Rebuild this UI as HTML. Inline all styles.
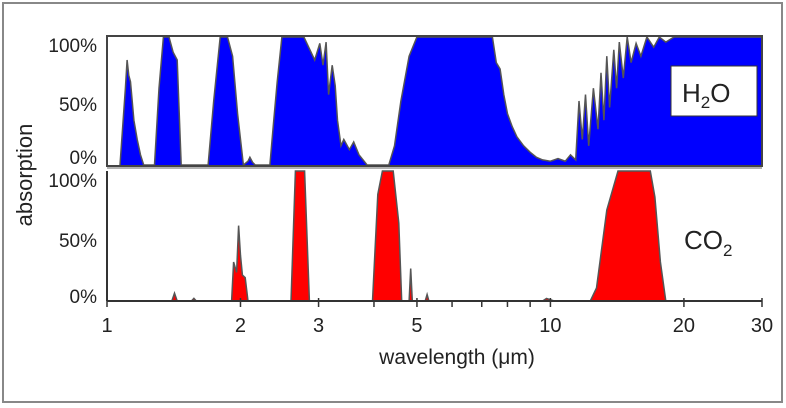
<!DOCTYPE html>
<html><head><meta charset="utf-8">
<style>
html,body{margin:0;padding:0;background:#fff;}
svg{display:block;font-family:"Liberation Sans",Arial,sans-serif;}
</style></head>
<body>
<svg id="chart" width="786" height="408" viewBox="0 0 786 408">
<rect x="3" y="3" width="779" height="399" fill="#fff" stroke="#888" stroke-width="2"/>
<g id="topPanel"></g>
<g id="botPanel"></g>
<g id="axesGroup"></g>
</svg>
<script>
// ---- data ----
const xTicks = [1,2,3,4,5,6,7,8,9,10,20,30];
const xTickLabels = [1,2,3,5,10,20,30];
const yTickLabels = ["0%","50%","100%"];
const yTickValues = [0,50,100];
const h2oWavelength = [1.07,1.10,1.11,1.12,1.13,1.15,1.17,1.19,1.21,1.28,1.31,1.34,1.38,1.41,1.44,1.47,1.69,1.74,1.80,1.87,1.92,1.97,2.03,2.08,2.10,2.13,2.16,2.33,2.37,2.42,2.48,2.60,2.78,2.94,3.02,3.07,3.12,3.16,3.22,3.27,3.31,3.37,3.42,3.52,3.60,3.70,3.86,4.32,4.45,4.60,4.80,5.00,5.10,7.4,7.55,7.7,7.85,8.0,8.2,8.4,8.7,9.0,9.3,9.6,10.0,10.4,10.8,11.1,11.4,11.6,11.8,12.0,12.2,12.5,12.8,13.0,13.2,13.4,13.6,13.9,14.1,14.3,14.6,14.9,15.2,15.6,16.0,16.5,17.1,17.6,18.2,19.0,30];
const h2oValues = [0,60,82,70,65,35,20,8,0,0,60,100,100,88,82,0,0,50,100,100,85,40,0,3,6,2,0,0,30,65,100,100,100,82,95,78,96,55,78,62,35,15,20,12,18,8,0,0,15,50,85,100,100,100,80,75,55,40,30,22,15,10,6,4,3,5,3,8,4,50,20,55,15,60,28,72,35,85,45,90,60,96,68,100,80,95,85,100,92,100,96,100,100];
const co2Wavelength = [1.0,1.40,1.42,1.44,1.55,1.57,1.59,1.91,1.93,1.96,1.98,2.00,2.02,2.05,2.08,2.60,2.66,2.70,2.79,2.86,3.97,4.08,4.18,4.42,4.55,4.62,4.80,4.84,4.88,4.95,5.22,5.27,5.32,9.6,9.8,10.2,12.3,12.7,13.4,14.2,16.8,17.2,17.7,18.2,30];
const co2Values = [0,0,6,0,0,2,0,0,30,22,58,35,20,18,0,0,100,100,100,0,0,82,100,100,60,0,0,25,0,0,0,5,0,0,2,0,0,10,70,100,100,80,30,0,0];

// ---- axes ----
const X0=107, X1=762;
function xs(w){return X0+(X1-X0)*Math.log10(w)/Math.log10(30);}
const TOPP={y0:165,y1:37}, BOTP={y0:301,y1:171};
function ys(p,v){return p.y0+(p.y1-p.y0)*v/100;}
const NS="http://www.w3.org/2000/svg";
function mk(parent,tag,attrs){const e=document.createElementNS(NS,tag);for(const k in attrs)e.setAttribute(k,attrs[k]);parent.appendChild(e);return e;}
function areaPath(p,ws,vs){let d="M"+xs(ws[0]).toFixed(1)+","+p.y0;for(let i=0;i<ws.length;i++)d+="L"+xs(ws[i]).toFixed(1)+","+ys(p,vs[i]).toFixed(1);d+="L"+xs(ws[ws.length-1]).toFixed(1)+","+p.y0+"Z";return d;}
function linePath(p,ws,vs){let d="";for(let i=0;i<ws.length;i++)d+=(i?"L":"M")+xs(ws[i]).toFixed(1)+","+ys(p,vs[i]).toFixed(1);return d;}

const gTop=document.getElementById('topPanel'), gBot=document.getElementById('botPanel'), gAx=document.getElementById('axesGroup');
let a=mk(gTop,'path',{d:areaPath(TOPP,h2oWavelength,h2oValues),fill:'#0000ff'});


let l=mk(gTop,'path',{d:linePath(TOPP,h2oWavelength,h2oValues),fill:'none',stroke:'#555','stroke-width':1.5});


let f=mk(gTop,'rect',{x:X0,y:TOPP.y1-1,width:X1-X0,height:TOPP.y0-TOPP.y1+2,fill:'none',stroke:'#444','stroke-width':2});


let lb=mk(gTop,'rect',{x:671,y:66,width:86,height:50,fill:'#fff',stroke:'#333','stroke-width':1});


let lt=mk(gTop,'text',{x:682,y:102,'font-size':26,fill:'#222'});
lt.innerHTML='H<tspan font-size="17" dy="6">2</tspan><tspan dy="-6">O</tspan>';


let b=mk(gBot,'path',{d:areaPath(BOTP,co2Wavelength,co2Values),fill:'#ff0000'});


let bl=mk(gBot,'path',{d:linePath(BOTP,co2Wavelength,co2Values),fill:'none',stroke:'#555','stroke-width':1.5});


let ct=mk(gBot,'text',{x:684,y:249,'font-size':26,fill:'#222'});
ct.innerHTML='CO<tspan font-size="17" dy="7">2</tspan>';


let sep=mk(gAx,'line',{x1:X0,x2:X1,y1:168,y2:168,stroke:'#666','stroke-width':1});


let yl=mk(gAx,'line',{x1:X0,x2:X0,y1:BOTP.y1,y2:BOTP.y0,stroke:'#333','stroke-width':2});


let xl=mk(gAx,'line',{x1:X0,x2:X1,y1:BOTP.y0,y2:BOTP.y0,stroke:'#333','stroke-width':2});


xTicks.forEach(t=>{
  const major=xTickLabels.indexOf(t)>=0;
  const tk=mk(gAx,'line',{x1:xs(t),x2:xs(t),y1:BOTP.y0-(major?3:0),y2:BOTP.y0+6,stroke:'#333','stroke-width':1.5});
  
  
});
xTickLabels.forEach(t=>{
  const tx=mk(gAx,'text',{x:xs(t),y:332,'font-size':20,'text-anchor':'middle',fill:'#222'});
  tx.textContent=t;
  
  
});
const labelBase = {top:{0:164,50:111,100:52}, bot:{0:303,50:247,100:187}};
[['top',TOPP],['bot',BOTP]].forEach(([k,p])=>{
  yTickValues.forEach((v,i)=>{
    const tx=mk(gAx,'text',{x:97,y:labelBase[k][v],'font-size':19,'text-anchor':'end',fill:'#222'});
    tx.textContent=yTickLabels[i];
    
    
  });
});
let xt=mk(gAx,'text',{x:457,y:364,'font-size':21,'text-anchor':'middle',fill:'#222'});
xt.textContent='wavelength (\u03bcm)';


let yt=mk(gAx,'text',{x:0,y:0,'font-size':22,'text-anchor':'middle',fill:'#222',transform:'translate(32,175) rotate(-90)'});
yt.textContent='absorption';


</script>
</body></html>
